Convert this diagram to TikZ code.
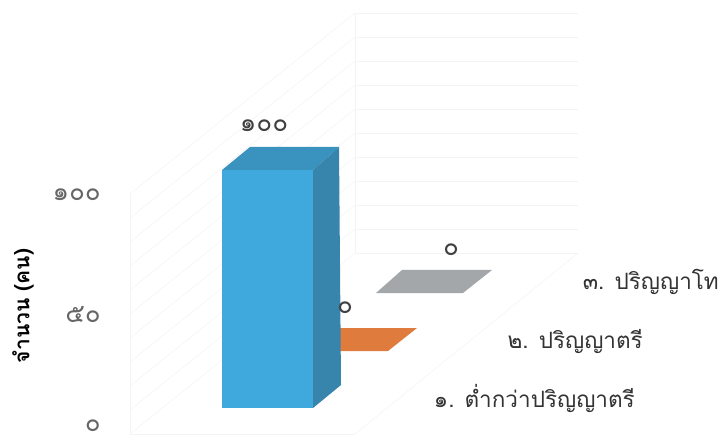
\documentclass[tikz,border=0pt]{standalone}
\usepackage{fontspec}
\newfontfamily\thaifont[Script=Thai]{Loma}
\definecolor{bfront}{HTML}{3FA9DD}
\definecolor{btop}{HTML}{3A93BE}
\definecolor{bside}{HTML}{3784AC}
\definecolor{orng}{HTML}{E07B3E}
\definecolor{gry}{HTML}{A4A7AA}
\definecolor{gridc}{HTML}{F2F4F6}
\tikzset{
  gridline/.style={draw=gridc, line width=0.5pt},
  axlabel/.style={font=\thaifont\fontsize{26}{26}\selectfont, inner sep=0pt, text=black!60},
  catlabel/.style={font=\thaifont\fontsize{22.5}{22.5}\selectfont, inner sep=0pt, text=black!80},
  vallabel/.style={font=\thaifont\fontsize{26}{26}\selectfont, inner sep=0pt, text=black!75},
}
\begin{document}
\begin{tikzpicture}[x=1pt,y=-1pt]
\useasboundingbox (0,0) rectangle (719,443);
\fill[white] (0,0) rectangle (719,443);
% faint walls and gridlines
\foreach \k in {0,...,10}{
  \pgfmathsetmacro{\yy}{13+24*\k}
  \draw[gridline] (355,\yy) -- (578,\yy);
  \draw[gridline] (355,\yy) -- (130,\yy+181);
}
\draw[gridline] (355,13) -- (355,253);
\draw[gridline] (578,253) -- (355,434);
\draw[gridline] (130,194) -- (130,434) -- (355,434);
% zero-height bars
\fill[gry] (402,270) -- (492,270) -- (463,293) -- (376,293) -- cycle;
\fill[orng] (335,328) -- (417,328) -- (388,351) -- (310,351) -- cycle;
% tall bar
\fill[btop] (222,170) -- (250,147) -- (339,147) -- (313,170) -- cycle;
\fill[bside] (313,170) -- (339,147) -- (341,385) -- (313,408) -- cycle;
\fill[bfront] (222,170) rectangle (313,408);
% value labels
\node[vallabel] (v1) at (264,126) {๑๐๐};
\node[vallabel] (v2) at (345,308) {๐};
\node[vallabel] (v3) at (451,250) {๐};
% axis labels
\node[axlabel, anchor=east] (y100) at (101,195) {๑๐๐};
\node[axlabel, anchor=east] (y50) at (101,315) {๕๐};
\node[axlabel, anchor=east] (y0) at (101,426) {๐};
\node[font=\thaifont\bfseries\fontsize{21}{21}\selectfont, rotate=90, inner sep=0pt] (ytitle) at (23,306) {จำนวน (คน)};
% category labels
\node[catlabel, anchor=east] (c3) at (719,282) {๓. ปริญญาโท};
\node[catlabel, anchor=east] (c2) at (643,342) {๒. ปริญญาตรี};
\node[catlabel, anchor=east] (c1) at (635,398) {๑. ต่ำกว่าปริญญาตรี};
\end{tikzpicture}
\end{document}
